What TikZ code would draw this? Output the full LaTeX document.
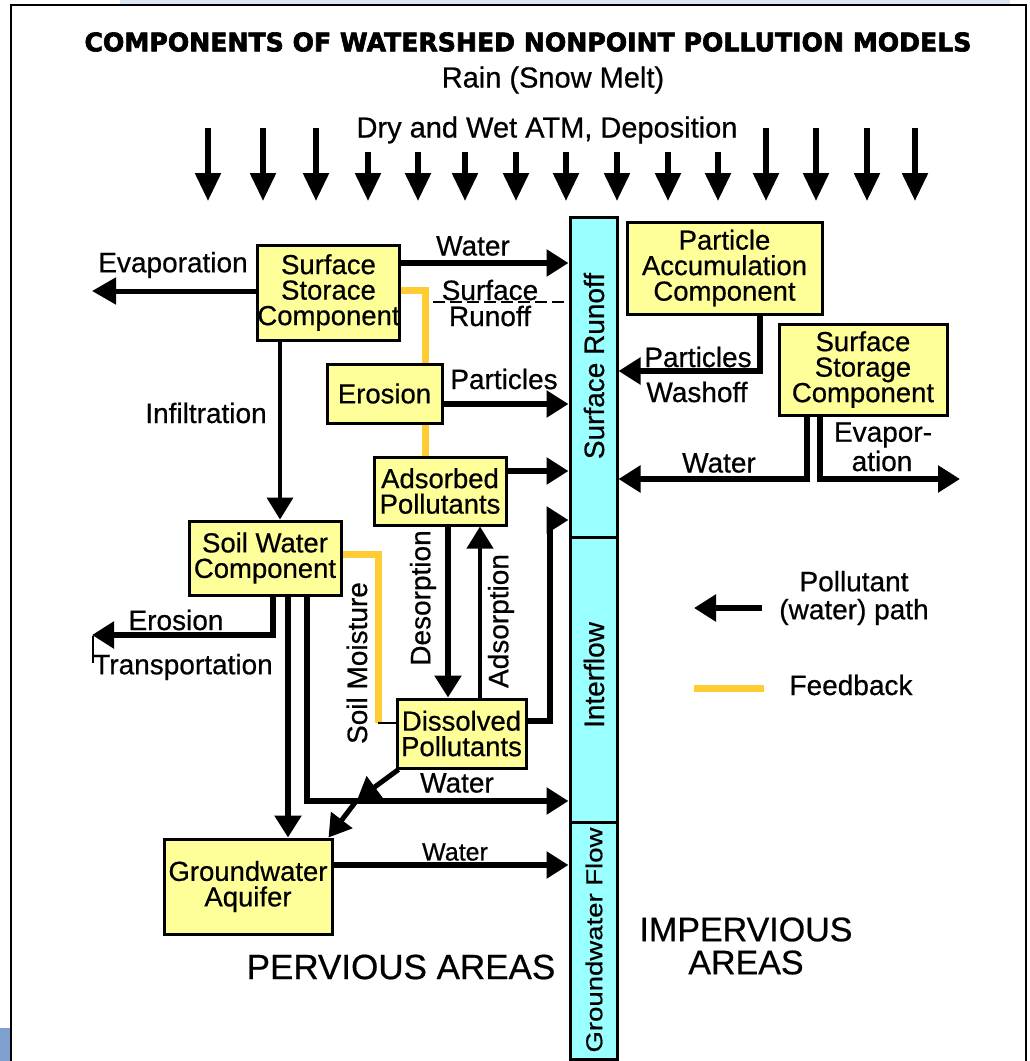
\documentclass[tikz,border=0pt]{standalone}
\usepackage{fontspec}
\usepackage{graphicx}
\setmainfont{Liberation Sans}[FakeBold=0.6]
\newfontfamily\titlefont{DejaVu Sans}[UprightFont=*-Bold, FakeBold=2.5]
\usetikzlibrary{arrows.meta,backgrounds}

\definecolor{boxyellow}{HTML}{FFFF99}
\definecolor{colcyan}{HTML}{99FFFF}
\definecolor{fbyellow}{HTML}{FFCC33}
\definecolor{slideblue}{HTML}{7F9FCF}
\definecolor{hazeblue}{HTML}{DCE6F3}

\begin{document}
\begin{tikzpicture}[x=1pt,y=-1pt,
  box/.style={draw=black, line width=3pt, fill=boxyellow, inner sep=0pt, align=center,
              font=\fontsize{27.5}{25.5}\selectfont},
  col/.style={draw=black, line width=3pt, fill=colcyan, minimum width=47pt, inner sep=0pt},
  lbl/.style={inner sep=0pt, align=center, font=\fontsize{28}{26}\selectfont},
  arr/.style={line width=6.5pt, -{Triangle[length=22pt,width=26pt]}},
  thinarr/.style={arr, line width=4pt},
  rain/.style={line width=5.5pt, -{Triangle[length=28pt,width=25pt]}},
  fb/.style={line width=7pt, fbyellow},
  thin/.style={line width=1.5pt}
]
\useasboundingbox (0,0) rectangle (1030,1061);

% slide background around the frame
\fill[hazeblue] (120,0) rectangle (1010,4);
\fill[slideblue] (0,1028) rectangle (10,1061);

% frame
\coordinate (fbl) at (11,1061);
\coordinate (ftl) at (11,5);
\coordinate (ftr) at (1026,5);
\coordinate (fbr) at (1026,1061);
\draw[line width=2.5pt] (fbl) -- (ftl) -- (ftr) -- (fbr);

% headings
\node[inner sep=0pt] (title) at (528,42)
  {\resizebox{887pt}{19pt}{\titlefont COMPONENTS OF WATERSHED NONPOINT POLLUTION MODELS}};
\node[lbl, font=\fontsize{29}{29}\selectfont] (rain) at (553,80) {Rain (Snow Melt)};
\node[lbl, font=\fontsize{29}{29}\selectfont] (dep) at (547,130) {Dry and Wet ATM, Deposition};

% precipitation / deposition arrows
\foreach \x/\t [count=\i] in {208/128, 263/128, 316/128, 368/152, 418/152, 465/152,
    516/152, 566/152, 617/152, 668/152, 718/152, 766/128, 816/128, 867/128, 915/128} {
  \coordinate (rt\i) at (\x,\t);
  \coordinate (rb\i) at (\x,201);
  \draw[rain] (rt\i) -- (rb\i);
}

% receiving column
\node[col, minimum height=320pt] (sr)  at (593.5,377)   {};
\node[col, minimum height=285pt] (inf) at (593.5,679.5) {};
\node[col, minimum height=237pt] (gwf) at (593.5,940.5) {};
\node[lbl, rotate=90] (srl)  at (594,366) {Surface Runoff};
\node[lbl, rotate=90] (infl) at (594,675) {Interflow};
\node[lbl, rotate=90] (gwfl) at (594,940)
  {\resizebox{225pt}{\height}{\fontsize{23}{23}\selectfont Groundwater Flow}};

% components
\node[box, minimum width=141pt, minimum height=95pt] (ssl)  at (328.5,292.5) {Surface\\Storace\\Component};
\node[box, minimum width=115pt, minimum height=59pt] (ero)  at (384.5,393.5) {Erosion};
\node[box, minimum width=132pt, minimum height=68pt] (ads)  at (440,491)     {Adsorbed\\Pollutants};
\node[box, minimum width=152pt, minimum height=74pt] (soil) at (265,558)     {Soil Water\\Component};
\node[box, minimum width=129pt, minimum height=69pt] (dis)  at (461.5,733.5) {Dissolved\\Pollutants};
\node[box, minimum width=168pt, minimum height=95pt] (gw)   at (248,886.5)   {Groundwater\\Aquifer};
\node[box, minimum width=195pt, minimum height=92pt] (pac)  at (724.5,268)   {Particle\\Accumulation\\Component};
\node[box, minimum width=168pt, minimum height=91pt] (ssr)  at (863,369.5)   {Surface\\Storage\\Component};

% feedback paths (behind the boxes)
\begin{scope}[on background layer]
  \draw[fb] (ssl.east |- 0,290) -| (425,0 |- ads.north);
  \coordinate (smc) at (378,723);
  \draw[fb] (soil.east |- 0,554) -| (smc);
\end{scope}
\draw[thin] (smc) -- (dis.west |- smc);

% pervious area: surface storage
\draw[arr] (ssl.east |- 0,263) -- (sr.west |- 0,263);
\coordinate (evl) at (92,291);
\draw[arr, line width=5pt, -{Triangle[length=24pt,width=26pt]}] (ssl.west |- evl) -- (evl);
\draw[thinarr] (280,0 |- ssl.south) -- (280,0 |- soil.north);
\coordinate (dsh) at (433,302);
\draw[line width=2pt, dash pattern=on 12pt off 5pt] (dsh) -- (sr.west |- dsh);

% erosion and pollutants
\draw[arr] (ero.east |- 0,404) -- (sr.west |- 0,404);
\draw[arr] (ads.east |- 0,471) -- (sr.west |- 0,471);
\draw[arr] (448,0 |- ads.south) -- (448,0 |- dis.north);
\draw[thinarr] (480,0 |- dis.north) -- (480,0 |- ads.south);
\coordinate (dcorner) at (550,520);
\draw[arr] (dis.east |- 0,721) -| (dcorner) -- (sr.west |- dcorner);

% soil water outputs
\coordinate (etr) at (92,635);
\draw[arr] (273,0 |- soil.south) |- (etr);
\coordinate (tt1) at (93,636);
\coordinate (tt2) at (93,663);
\draw[thin] (tt1) -- (tt2);
\draw[arr] (288,0 |- soil.south) -- (288,0 |- gw.north);
\draw[arr] (307,0 |- soil.south) |- (inf.west |- 0,801);
\coordinate (dx) at (357,800);
\draw[arr, line width=5pt] ([xshift=3pt]dis.south west) -- (dx);
\draw[arr, line width=5pt] (dx) -- ([xshift=-5pt]gw.north east);
\draw[arr] (gw.east |- 0,865) -- (gwf.west |- 0,865);

% impervious area
\draw[arr] (760,0 |- pac.south) |- (sr.east |- 0,371);
\draw[arr] (807,0 |- ssr.south) |- (sr.east |- 0,479);
\coordinate (evr) at (960,479);
\draw[arr] (820,0 |- ssr.south) |- (evr);

% path labels
\node[lbl] (levap) at (173,265) {Evaporation};
\node[lbl] (lwat1) at (473,246) {Water};
\node[lbl] (lsurf) at (490,290) {Surface};
\node[lbl] (lrun)  at (490,316) {Runoff};
\node[lbl] (linf)  at (206,413) {Infiltration};
\node[lbl] (lpar)  at (504,379) {Particles};
\node[lbl, rotate=90] (ldes) at (423,598) {Desorption};
\node[lbl, rotate=90] (lads) at (501,621) {Adsorption};
\node[lbl, rotate=90] (lsm)  at (357,663) {Soil Moisture};
\node[lbl] (lero)  at (176,620) {Erosion};
\node[lbl] (ltra)  at (183,667) {Transportation};
\node[lbl] (lwat2) at (457,783) {Water};
\node[lbl, font=\fontsize{25}{25}\selectfont] (lwat3) at (455,852) {Water};
\node[lbl] (lpar2) at (698,357) {Particles};
\node[lbl] (lwash) at (697,392) {Washoff};
\node[lbl] (lwat4) at (719,463) {Water};
\node[lbl] (lev1)  at (883,435) {Evapor-};
\node[lbl] (lev2)  at (882,461) {ation};

% legend
\coordinate (lgA) at (762,608);
\coordinate (lgB) at (694,608);
\draw[arr] (lgA) -- (lgB);
\node[lbl, font=\fontsize{28}{28}\selectfont] (lgt1) at (854,598) {Pollutant\\(water) path};
\coordinate (lgC) at (694,688);
\coordinate (lgD) at (764,688);
\draw[fb] (lgC) -- (lgD);
\node[lbl] (lgt2) at (851,685) {Feedback};

% area names
\node[lbl, font=\fontsize{35}{35}\selectfont] (perv) at (401,967) {PERVIOUS AREAS};
\node[lbl, font=\fontsize{34}{33}\selectfont] (imperv) at (746,946) {IMPERVIOUS\\AREAS};
\end{tikzpicture}
\end{document}
